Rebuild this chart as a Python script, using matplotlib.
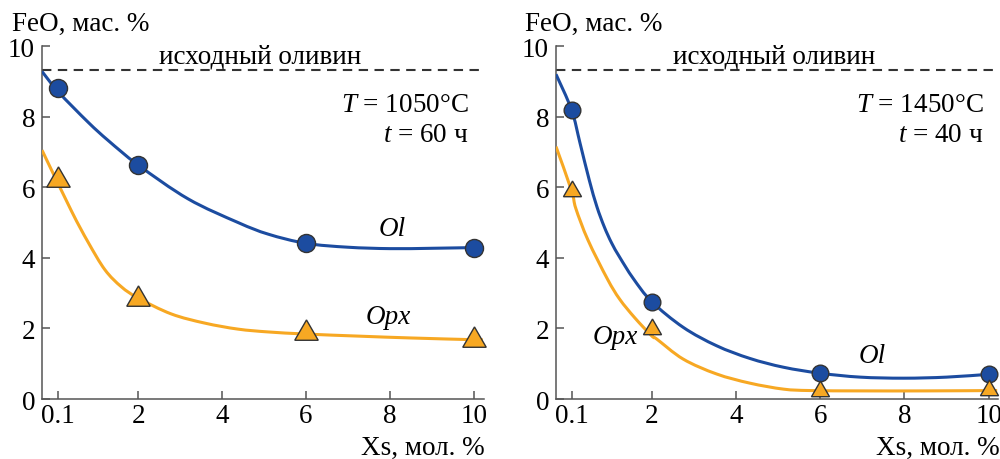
import matplotlib
matplotlib.use("Agg")
import matplotlib.pyplot as plt
from matplotlib.path import Path
from matplotlib.patches import PathPatch

plt.rcParams['font.family'] = ['Liberation Serif', 'DejaVu Serif']
plt.rcParams['mathtext.fontset'] = 'custom'
plt.rcParams['mathtext.rm'] = 'Liberation Serif'
plt.rcParams['mathtext.it'] = 'Liberation Serif:italic'

# точки измерений
xs = [0.1, 2, 6, 10]
ol_1050 = [8.80, 6.63, 4.41, 4.29]
opx_1050 = [6.20, 2.84, 1.86, 1.68]
ol_1450 = [8.19, 2.75, 0.73, 0.70]
opx_1450 = [5.90, 1.97, 0.22, 0.25]
olivine_start = 9.31

# сглаживающие кривые
ol_1050_cx = [-0.29, 0.1, 0.81, 1.29, 2.0, 3.19, 4.38, 5.1, 6.0, 7.0, 8.0, 9.0, 10.0, 10.15]
ol_1050_cy = [9.28, 8.70, 7.84, 7.32, 6.63, 5.67, 5.00, 4.67, 4.41, 4.30, 4.26, 4.27, 4.29, 4.29]
opx_1050_cx = [-0.29, 0.41, 0.81, 1.21, 1.6, 2.0, 2.79, 3.59, 4.38, 5.1, 6.0, 7.29, 8.48, 10.0, 10.15]
opx_1050_cy = [7.05, 5.33, 4.44, 3.66, 3.18, 2.86, 2.41, 2.15, 1.98, 1.90, 1.84, 1.78, 1.73, 1.68, 1.68]
ol_1450_cx = [-0.27, 0.1, 0.3, 0.52, 0.7, 0.875, 1.05, 1.24, 1.56, 2.0, 2.75, 3.54, 4.33, 5.13, 6.0, 6.95, 7.98, 9.0, 10.0, 10.2]
ol_1450_cy = [9.2, 8.19, 7.25, 6.20, 5.45, 4.88, 4.42, 4.02, 3.42, 2.76, 2.03, 1.51, 1.15, 0.90, 0.73, 0.62, 0.59, 0.62, 0.70, 0.71]
opx_1450_cx = [-0.27, 0.1, 0.2, 0.49, 0.95, 1.24, 1.6, 2.0, 2.12, 2.75, 3.54, 4.33, 5.13, 5.76, 7.0, 8.5, 10.2]
opx_1450_cy = [7.15, 5.90, 5.40, 4.50, 3.40, 2.83, 2.30, 1.79, 1.70, 1.13, 0.71, 0.45, 0.28, 0.24, 0.23, 0.23, 0.24]

xticks = [0.1, 2, 4, 6, 8, 10]
xticklabels = ['0.1', '2', '4', '6', '8', '10']
yticks = [0, 2, 4, 6, 8, 10]

blue = '#1c4ca0'
orange = '#f7a823'
edge = '#333333'
fs = 19.5


def smooth_line(ax, px, py, color):
    # гладкая линия через точки (кривые Безье, Catmull-Rom)
    verts = [(px[0], py[0])]
    codes = [Path.MOVETO]
    n = len(px)
    for i in range(n - 1):
        x0, y0 = (px[i - 1], py[i - 1]) if i > 0 else (px[i], py[i])
        x1, y1 = px[i], py[i]
        x2, y2 = px[i + 1], py[i + 1]
        x3, y3 = (px[i + 2], py[i + 2]) if i + 2 < n else (px[i + 1], py[i + 1])
        verts += [(x1 + (x2 - x0) / 6, y1 + (y2 - y0) / 6),
                  (x2 - (x3 - x1) / 6, y2 - (y3 - y1) / 6),
                  (x2, y2)]
        codes += [Path.CURVE4] * 3
    ax.add_patch(PathPatch(Path(verts, codes), fc='none', ec=color, lw=2.2, zorder=3))


fig = plt.figure(figsize=(10, 4.6), dpi=100)
ax1 = fig.add_axes([0.042, 0.1304, 0.442, 0.7674])
ax2 = fig.add_axes([0.556, 0.1304, 0.442, 0.7674])

panels = [
    (ax1, (-0.29, 10.24), ol_1050_cx, ol_1050_cy, opx_1050_cx, opx_1050_cy, ol_1050, opx_1050, 13, 19.5,
     '1050', '60', (8.05, 4.84), (7.95, 2.35)),
    (ax2, (-0.27, 10.22), ol_1450_cx, ol_1450_cy, opx_1450_cx, opx_1450_cy, ol_1450, opx_1450, 12, 15,
     '1450', '40', (7.23, 1.22), (1.13, 1.76)),
]

for ax, xl, olx, oly, opxx, opxy, ol, opx, ms_c, ms_t, temp, hours, ol_pos, opx_pos in panels:
    ax.plot(xl, [olivine_start, olivine_start], color=edge, lw=1.5, dashes=(4.5, 3.1), clip_on=False)
    smooth_line(ax, olx, oly, blue)
    smooth_line(ax, opxx, opxy, orange)
    ax.plot(xs, ol, 'o', ms=ms_c, mfc=blue, mec=edge, mew=1.0, zorder=4, clip_on=False)
    ax.plot(xs, opx, marker=(3, 0, 0), ls='none', ms=ms_t, mfc=orange, mec=edge, mew=1.0, zorder=4, clip_on=False)

    ax.set_xlim(*xl)
    ax.set_ylim(0, 10)
    ax.set_xticks(xticks)
    ax.set_xticklabels(xticklabels)
    ax.set_yticks(yticks)
    for s in ['top', 'right']:
        ax.spines[s].set_visible(False)
    for s in ['left', 'bottom']:
        ax.spines[s].set_color('#555555')
        ax.spines[s].set_linewidth(1.1)
    ax.tick_params(direction='in', length=6, width=1.1, color='#555555', labelsize=fs, pad=3)
    ax.tick_params(axis='y', pad=5)

    ax.text(4.9, 9.72, 'исходный оливин', fontsize=fs, ha='center', va='center')
    ax.text(9.87, 8.17, '$T$ = ' + temp + '°C', fontsize=fs, ha='right', va='baseline')
    ax.text(9.87, 7.32, '$t$ = ' + hours + ' ч', fontsize=fs, ha='right', va='baseline')
    ax.text(ol_pos[0], ol_pos[1], 'Ol', fontsize=fs, style='italic', ha='center', va='center')
    ax.text(opx_pos[0], opx_pos[1], 'Opx', fontsize=fs, style='italic', ha='center', va='center')

fig.text(0.012, 0.9326, 'FeO, мас. %', fontsize=fs, ha='left', va='baseline')
fig.text(0.525, 0.9326, 'FeO, мас. %', fontsize=fs, ha='left', va='baseline')
fig.text(0.485, 0.011, 'Xs, мол. %', fontsize=fs, ha='right', va='baseline')
fig.text(1.0, 0.011, 'Xs, мол. %', fontsize=fs, ha='right', va='baseline')

fig.savefig('out.png', dpi=100)
